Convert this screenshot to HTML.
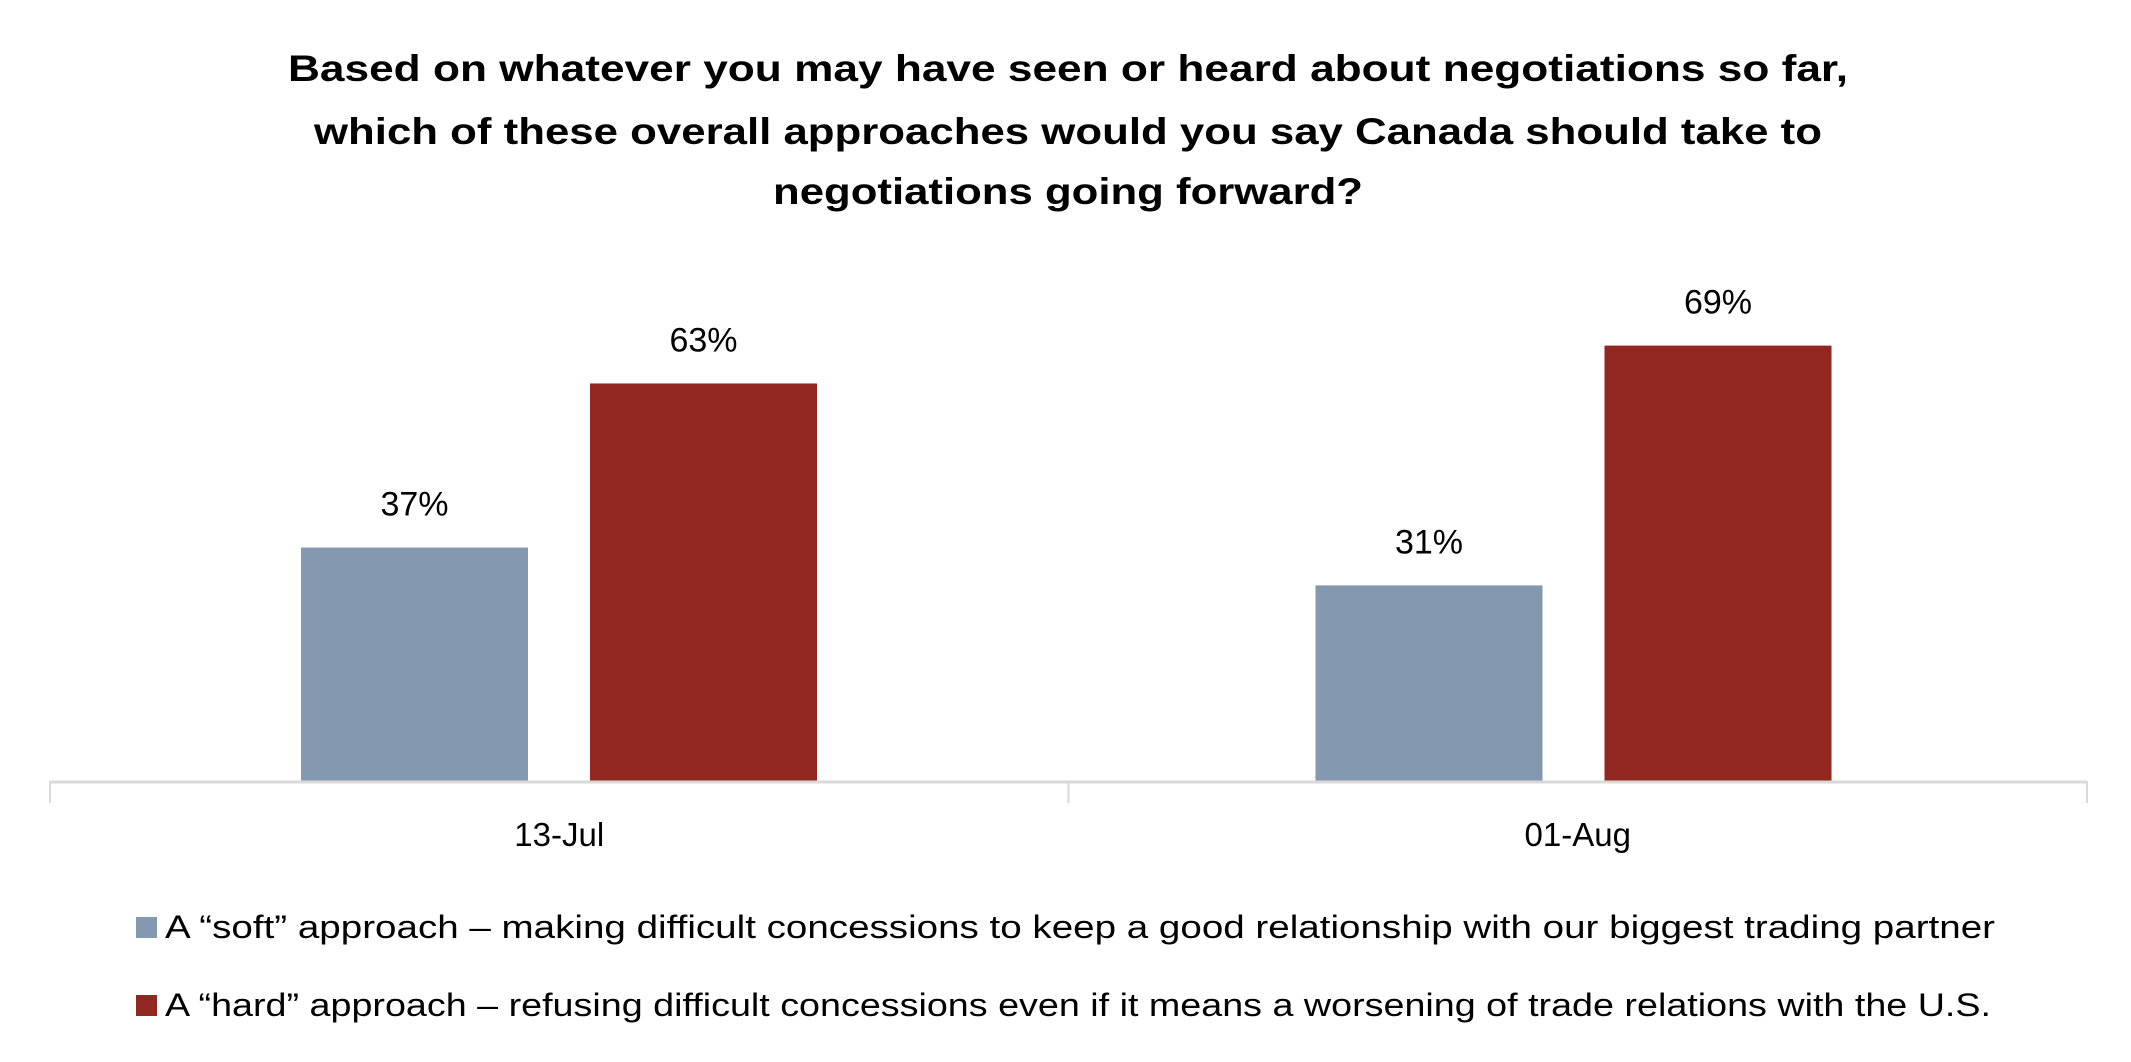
<!DOCTYPE html>
<html><head><meta charset="utf-8"><style>
html,body{margin:0;padding:0;background:#fff;}
svg{display:block;font-family:"Liberation Sans",sans-serif;}
</style></head><body>
<svg id="chart" width="2131" height="1062" viewBox="0 0 2131 1062">
<g font-weight="bold" font-size="37" text-anchor="middle" fill="#000">
<text x="1068" y="81" textLength="1560" lengthAdjust="spacingAndGlyphs">Based on whatever you may have seen or heard about negotiations so far,</text>
<text x="1068" y="144" textLength="1508" lengthAdjust="spacingAndGlyphs">which of these overall approaches would you say Canada should take to</text>
<text x="1068" y="204" textLength="590" lengthAdjust="spacingAndGlyphs">negotiations going forward?</text>
</g>
<g id="plot"></g>
<g font-size="32" fill="#000">
<rect x="136" y="917" width="21" height="21" fill="#8498b0"/>
<text x="165" y="938" textLength="1830" lengthAdjust="spacingAndGlyphs">A “soft” approach – making difficult concessions to keep a good relationship with our biggest trading partner</text>
<rect x="136" y="995" width="21" height="21" fill="#922621"/>
<text x="165" y="1016" textLength="1826" lengthAdjust="spacingAndGlyphs">A “hard” approach – refusing difficult concessions even if it means a worsening of trade relations with the U.S.</text>
</g>
</svg>
<script>
const categories = ["13-Jul", "01-Aug"];
const softValues = [37, 31];
const hardValues = [63, 69];
const valueLabelsSoft = ["37%", "31%"];
const valueLabelsHard = ["63%", "69%"];

const NS = "http://www.w3.org/2000/svg";
const plot = document.getElementById("plot");
const left = 50, right = 2087, baseY = 781, pxPerPct = 6.31;
const catW = (right - left) / categories.length;
const barW = 227, offSoft = 251, offHard = 540;
function y(v){ return baseY - v * pxPerPct; }
function mk(tag, attrs){ const e = document.createElementNS(NS, tag); for (const k in attrs) e.setAttribute(k, attrs[k]); plot.appendChild(e); return e; }

categories.forEach((c, i) => {
  const x0 = left + i * catW;
  const series = [[softValues[i], valueLabelsSoft[i], offSoft, "#8498b0", "soft"], [hardValues[i], valueLabelsHard[i], offHard, "#922621", "hard"]];
  series.forEach(s => {
    const r = mk("rect", {x: x0 + s[2] - i * 4, y: y(s[0]), width: barW, height: s[0] * pxPerPct, fill: s[3]});
    
    
    const t = mk("text", {x: x0 + s[2] - i * 4 + barW / 2, y: y(s[0]) - 32, "text-anchor": "middle", "font-size": "34", fill: "#000"});
    t.textContent = s[1];
    
    
  });
  const cl = mk("text", {x: x0 + catW / 2, y: 846, "text-anchor": "middle", "font-size": "33", fill: "#000"});
  cl.textContent = c;
  
  
});
const ax = mk("line", {x1: left, x2: right, y1: baseY + 1, y2: baseY + 1, stroke: "#d9d9d9", "stroke-width": "3"});


for (let i = 0; i <= categories.length; i++) {
  const tk = mk("line", {x1: left + i * catW, x2: left + i * catW, y1: baseY, y2: baseY + 22, stroke: "#d9d9d9", "stroke-width": "2"});
  
  
}
</script>
</body></html>
